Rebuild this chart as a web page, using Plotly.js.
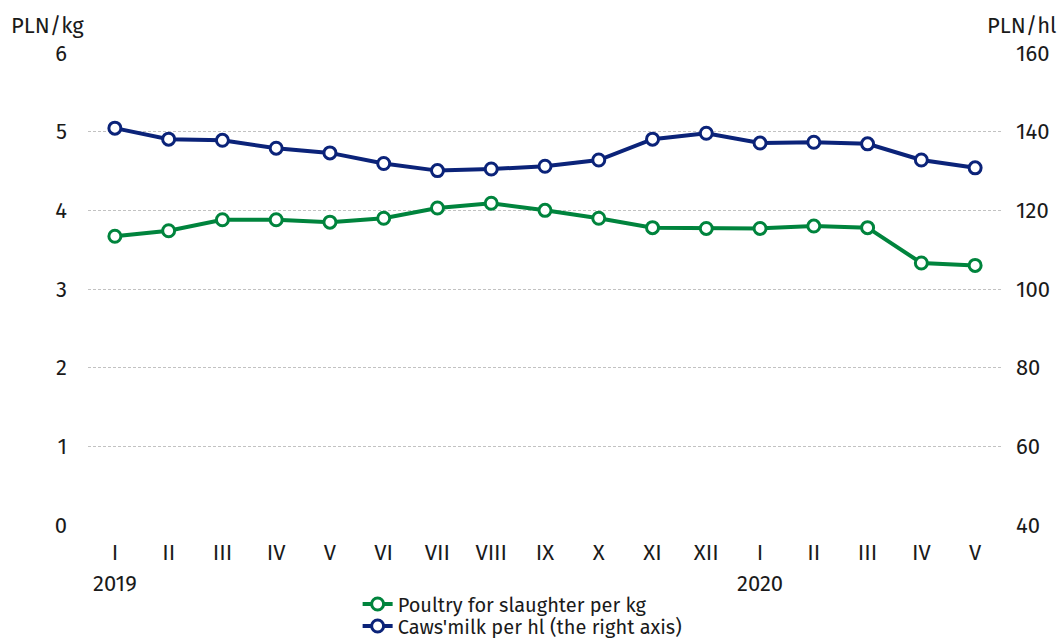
<!doctype html>
<html>
<head>
<meta charset="utf-8">
<script src="https://cdn.plot.ly/plotly-3.0.1.min.js"></script>
<style>
  html, body { margin: 0; padding: 0; background: #fff; }
  #chart { width: 1062px; height: 641px; }
</style>
</head>
<body>
<div id="chart"></div>
<script>
// months, Jan 2019 .. May 2020
const months = ['I','II','III','IV','V','VI','VII','VIII','IX','X','XI','XII','I','II','III','IV','V']
const poultry = [3.67, 3.74, 3.88, 3.88, 3.85, 3.90, 4.03, 4.09, 4.00, 3.90, 3.78, 3.77, 3.77, 3.80, 3.78, 3.33, 3.30]
const milk = [140.9, 138.1, 137.8, 135.8, 134.6, 131.9, 130.1, 130.5, 131.2, 132.8, 138.1, 139.6, 137.1, 137.3, 136.9, 132.8, 130.8]
const years = [{ idx: 0, label: '2019' }, { idx: 12, label: '2020' }]

const green = '#00843d'
const navy = '#0b2379'
const font = { family: 'Fira Sans, Noto Sans, sans-serif', size: 22, color: '#1a1a1a' }
const xs = months.map((m, i) => i)

let traces = [
  {
    x: xs, y: poultry, name: 'Poultry for slaughter per kg', legend: 'legend',
    type: 'scatter', mode: 'lines+markers',
    line: { color: green, width: 4 },
    marker: { size: 12, color: '#fff', line: { color: green, width: 3 } }
  },
  {
    x: xs, y: milk, name: "Caws'milk per hl (the right axis)", yaxis: 'y2', legend: 'legend2',
    type: 'scatter', mode: 'lines+markers',
    line: { color: navy, width: 4 },
    marker: { size: 12, color: '#fff', line: { color: navy, width: 3 } }
  }
]

let annotations = years.map(y => ({
  x: y.idx, y: 0, xref: 'x', yref: 'paper', yshift: -58,
  text: y.label, showarrow: false, font: font, xanchor: 'center', yanchor: 'middle'
}))
annotations.push(
  { x: 0, y: 1, xref: 'paper', yref: 'paper', xshift: -79, yshift: 28, xanchor: 'left', yanchor: 'middle',
    text: 'PLN/kg', showarrow: false, font: font },
  { x: 1, y: 1, xref: 'paper', yref: 'paper', xshift: 57, yshift: 28, xanchor: 'right', yanchor: 'middle',
    text: 'PLN/hl', showarrow: false, font: font }
)

const legendBase = {
  orientation: 'v', xref: 'paper', yref: 'container', xanchor: 'left', yanchor: 'middle',
  font: { family: font.family, size: 20, color: '#1a1a1a' },
  bgcolor: 'rgba(0,0,0,0)', borderwidth: 0, itemwidth: 30
}

Plotly.newPlot('chart', traces, {
  width: 1062, height: 641,
  margin: { l: 88, r: 60, t: 53, b: 116, autoexpand: false },
  paper_bgcolor: '#fff', plot_bgcolor: '#fff',
  font: font,
  showlegend: true,
  legend: Object.assign({}, legendBase, { x: 0.295, y: (641 - 604) / 641 }),
  legend2: Object.assign({}, legendBase, { x: 0.295, y: (641 - 626) / 641 }),
  xaxis: {
    tickmode: 'array', tickvals: xs, ticktext: months,
    range: [-0.5, months.length - 0.5],
    showgrid: false, zeroline: false, showline: false,
    ticks: '', ticklabelstandoff: 12
  },
  yaxis: {
    range: [0, 6], dtick: 1, tick0: 0,
    showgrid: true, gridcolor: '#c2c2c2', griddash: '3px,2px', gridwidth: 1,
    zeroline: false, showline: false, ticks: '', ticklabelstandoff: 20
  },
  yaxis2: {
    range: [40, 160], dtick: 20, tick0: 40,
    overlaying: 'y', side: 'right',
    showgrid: false, zeroline: false, showline: false, ticks: '', ticklabelstandoff: 13
  },
  annotations: annotations
}, { displayModeBar: false })
</script>
</body>
</html>
